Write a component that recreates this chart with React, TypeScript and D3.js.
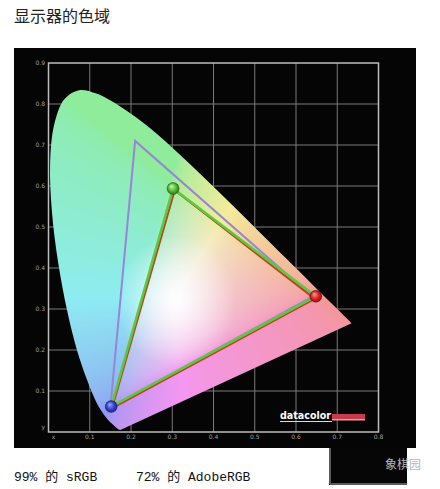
import * as d3 from "d3";
import React, { useMemo } from "react";

const WIDTH = 440;
const HEIGHT = 489;

// CIE 1931 spectral locus: [x, y]
const locus: [number, number][] = [
    [0.1741, 0.005], [0.1689, 0.0069], [0.1566, 0.0177], [0.144, 0.0297],
    [0.1241, 0.0578], [0.1096, 0.0868], [0.0913, 0.1327], [0.0687, 0.2007],
    [0.0454, 0.295], [0.0235, 0.4127], [0.0082, 0.5384], [0.0039, 0.6548],
    [0.0139, 0.7502], [0.0389, 0.812], [0.0743, 0.8338], [0.1142, 0.8262],
    [0.1547, 0.8059], [0.2296, 0.7543], [0.3016, 0.6923], [0.3731, 0.6245],
    [0.4441, 0.5547], [0.5125, 0.4866], [0.5752, 0.4242], [0.627, 0.3725],
    [0.6915, 0.3083], [0.719, 0.2809], [0.7347, 0.2653],
];

// gamut triangles (R, G, B)
const adobeRGB: [number, number][] = [[0.64, 0.33], [0.21, 0.71], [0.15, 0.06]];
const sRGB: [number, number][] = [[0.645, 0.325], [0.306, 0.59], [0.154, 0.058]];
const measured: [number, number][] = [[0.648, 0.331], [0.302, 0.594], [0.152, 0.062]];

const xTicks = [0.1, 0.2, 0.3, 0.4, 0.5, 0.6, 0.7, 0.8];
const yTicks = [0.1, 0.2, 0.3, 0.4, 0.5, 0.6, 0.7, 0.8, 0.9];

const title = "显示器的色域";
const captions = ["99% 的 sRGB", "72% 的 AdobeRGB"];

// xy chromaticity -> pastel display colour
function chroma(cx: number, cy: number) {
    const X = cx / cy;
    const Z = (1 - cx - cy) / cy;
    let r = Math.max(0, 3.2406 * X - 1.5372 - 0.4986 * Z);
    let g = Math.max(0, -0.9689 * X + 1.8758 + 0.0415 * Z);
    let b = Math.max(0, 0.0557 * X - 0.204 + 1.057 * Z);
    const m = Math.max(r, g, b, 1e-6);
    const f = (c: number, k: number, top: number) => {
        const v = Math.pow(c / m, 1 / 2.2);
        return Math.round((1 - (1 - v) * k) * top);
    };
    return `rgb(${f(r, 0.42, 244)},${f(g, 0.36, 236)},${f(b, 0.36, 242)})`;
}

const App: React.FC = () => {
    const xScale = d3.scaleLinear().domain([0, 0.8]).range([48.5, 378.5]);
    const yScale = d3.scaleLinear().domain([0, 0.9]).range([432, 63]);

    const locusPath =
        d3
            .line<[number, number]>()
            .x((d) => xScale(d[0]))
            .y((d) => yScale(d[1]))
            .curve(d3.curveCatmullRom)(locus) + "Z";

    const tri = d3
        .line<[number, number]>()
        .x((d) => xScale(d[0]))
        .y((d) => yScale(d[1]));

    const step = 3;
    const cells = useMemo(() => {
        const out: { px: number; py: number; c: string }[] = [];
        for (let px = 48; px < 356; px += step) {
            for (let py = 86; py < 432; py += step) {
                const cx = xScale.invert(px + step / 2);
                const cy = yScale.invert(py + step / 2);
                out.push({ px, py, c: chroma(Math.max(cx, 0.001), Math.max(cy, 0.002)) });
            }
        }
        return out;
    }, []);

    const points = [
        { p: measured[0], id: "gR" },
        { p: measured[1], id: "gG" },
        { p: measured[2], id: "gB" },
    ];

    return (
        <svg
            width={WIDTH}
            height={HEIGHT}
            style={{ position: "absolute", left: 0, top: 0, background: "#fff" }}
        >
            <defs>
                <clipPath id="locusClip">
                    <path d={locusPath} />
                </clipPath>
                <filter id="soft" x="-5%" y="-5%" width="110%" height="110%">
                    <feGaussianBlur stdDeviation="1.6" />
                </filter>
                <radialGradient id="glow" cx="50%" cy="50%" r="50%">
                    <stop offset="0%" stopColor="#fff" stopOpacity={0.95} />
                    <stop offset="100%" stopColor="#fff" stopOpacity={0} />
                </radialGradient>
                <radialGradient id="gR" cx="50%" cy="50%" r="55%" fx="35%" fy="30%">
                    <stop offset="0%" stopColor="#ff9a9a" />
                    <stop offset="60%" stopColor="#d82020" />
                    <stop offset="100%" stopColor="#801010" />
                </radialGradient>
                <radialGradient id="gG" cx="50%" cy="50%" r="55%" fx="35%" fy="30%">
                    <stop offset="0%" stopColor="#c8ffb0" />
                    <stop offset="60%" stopColor="#50b830" />
                    <stop offset="100%" stopColor="#2a6a18" />
                </radialGradient>
                <radialGradient id="gB" cx="50%" cy="50%" r="55%" fx="35%" fy="30%">
                    <stop offset="0%" stopColor="#a0a8ff" />
                    <stop offset="60%" stopColor="#3040d0" />
                    <stop offset="100%" stopColor="#18207a" />
                </radialGradient>
            </defs>

            <text
                x={14}
                y={22}
                fontFamily="'Noto Sans CJK SC'"
                fontSize={16}
                fill="#222"
            >
                {title}
            </text>

            {/* black panel */}
            <rect x={14} y={48} width={402} height={400} fill="#050505" />

            {/* grid */}
            <g stroke="#7a7a7a" strokeWidth={1}>
                {xTicks.slice(0, -1).map((t) => (
                    <line key={"vx" + t} x1={xScale(t)} x2={xScale(t)} y1={yScale(0.9)} y2={yScale(0)} />
                ))}
                {yTicks.slice(0, -1).map((t) => (
                    <line key={"hy" + t} x1={xScale(0)} x2={xScale(0.8)} y1={yScale(t)} y2={yScale(t)} />
                ))}
            </g>

            {/* chromaticity fill */}
            <g clipPath="url(#locusClip)">
                <g filter="url(#soft)">
                    {cells.map((d, i) => (
                        <rect
                            key={i}
                            x={d.px - 1}
                            y={d.py - 1}
                            width={step + 2}
                            height={step + 2}
                            fill={d.c}
                        />
                    ))}
                </g>
                <ellipse
                    cx={xScale(0.31)}
                    cy={yScale(0.32)}
                    rx={60}
                    ry={66}
                    fill="url(#glow)"
                />
            </g>

            {/* frame */}
            <rect
                x={xScale(0)}
                y={yScale(0.9)}
                width={xScale(0.8) - xScale(0)}
                height={yScale(0) - yScale(0.9)}
                fill="none"
                stroke="#bdbdbd"
                strokeWidth={1.5}
            />

            {/* tick labels */}
            <g fontFamily="'DejaVu Sans'" fontSize={6} fill="#a0a0a0">
                {xTicks.map((t) => (
                    <text key={"xl" + t} x={xScale(t)} y={439} textAnchor="middle">
                        {t.toFixed(1)}
                    </text>
                ))}
                <text x={xScale(0) + 5} y={439} textAnchor="middle">x</text>
                {yTicks.map((t) => (
                    <text key={"yl" + t} x={45} y={yScale(t) + 2} textAnchor="end">
                        {t.toFixed(1)}
                    </text>
                ))}
                <text x={45} y={yScale(0) - 3} textAnchor="end">y</text>
            </g>

            {/* gamut triangles */}
            <path d={tri(adobeRGB) + "Z"} fill="none" stroke="#9686d6" strokeWidth={2} />
            <path d={tri(sRGB) + "Z"} fill="none" stroke="#c0401a" strokeWidth={2} />
            <path
                d={tri(measured) + "Z"}
                fill="none"
                stroke="#58cc40"
                strokeWidth={2.6}
                strokeLinejoin="round"
            />

            {points.map((d) => (
                <circle
                    key={d.id}
                    cx={xScale(d.p[0])}
                    cy={yScale(d.p[1])}
                    r={6}
                    fill={`url(#${d.id})`}
                    stroke="rgba(0,0,0,0.35)"
                    strokeWidth={0.8}
                />
            ))}

            {/* datacolor logo */}
            <text
                x={280}
                y={419}
                fontFamily="'DejaVu Sans'"
                fontWeight="bold"
                fontSize={11}
                fill="#fff"
                textLength={51}
                lengthAdjust="spacingAndGlyphs"
            >
                datacolor
            </text>
            <rect x={332} y={414} width={33} height={6} fill="#c63c4c" />
            <rect x={332} y={419} width={33} height={1.5} fill="#e89aa0" />
            <line x1={280} x2={332} y1={421.5} y2={421.5} stroke="#ddd" strokeWidth={1} />

            {/* watermark box */}
            <rect x={329} y={447} width={78} height={38} fill="#060606" />
            <line x1={330} x2={330} y1={448} y2={484} stroke="#5a5a5a" strokeWidth={2} />
            <line x1={330} x2={407} y1={484} y2={484} stroke="#5a5a5a" strokeWidth={2} />
            <text
                x={385}
                y={469}
                fontFamily="'Noto Sans CJK SC'"
                fontSize={12}
                fill="#b8b8b8"
            >
                象棋园
            </text>

            {/* captions */}
            <g fontFamily="'Liberation Mono', 'Noto Sans CJK SC'" fontSize={13} fill="#111">
                <text x={14} y={481}>{captions[0]}</text>
                <text x={136} y={481}>{captions[1]}</text>
            </g>
        </svg>
    );
};

export default App;
